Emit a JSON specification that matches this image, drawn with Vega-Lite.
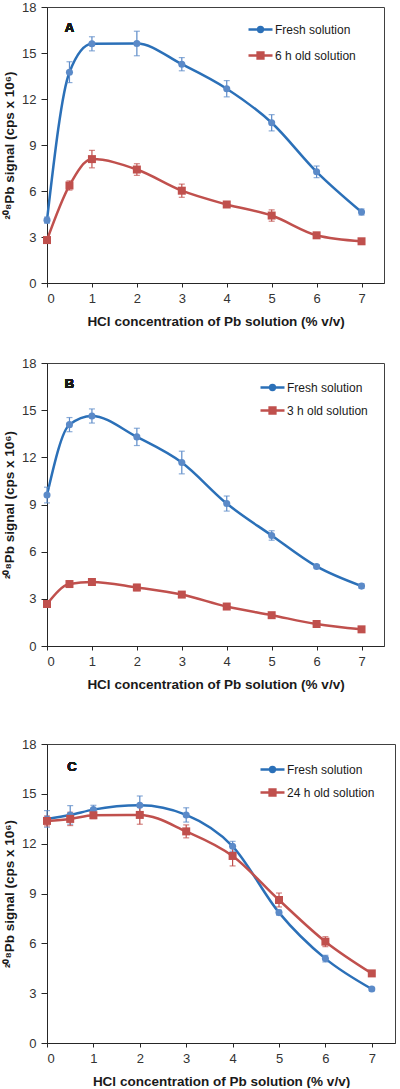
{
  "$schema": "https://vega.github.io/schema/vega-lite/v6.json",
  "padding": {"left": 2, "top": 0, "right": 0, "bottom": 0},
  "background": "white",
  "config": {
    "font": "Liberation Sans",
    "view": {"stroke": "#404040", "strokeWidth": 1},
    "axis": {"grid": false, "domainColor": "#262626", "tickColor": "#262626", "labelFont": "Liberation Sans", "labelFontSize": 13, "labelColor": "#333333", "titleFont": "Liberation Sans", "titleFontSize": 13.5, "titleFontWeight": "bold", "titleColor": "#1a1a1a"},
    "axisX": {"tickSize": 4, "labelPadding": 5, "titlePadding": 9},
    "axisY": {"tickSize": 6, "labelPadding": 5, "titlePadding": 5},
    "legend": {"orient": "none", "title": null, "symbolSize": 576, "symbolStrokeWidth": 2.5, "labelFont": "Liberation Sans", "labelFontSize": 12, "labelColor": "#1a1a1a", "labelOffset": 1, "padding": 0}
  },
  "datasets": {
    "A": [
      {"series": "Fresh solution", "x": 0, "v": 4.1, "e": 0.2},
      {"series": "Fresh solution", "x": 0.5, "v": 13.75, "e": 0.68},
      {"series": "Fresh solution", "x": 1, "v": 15.6, "e": 0.46},
      {"series": "Fresh solution", "x": 2, "v": 15.62, "e": 0.8},
      {"series": "Fresh solution", "x": 3, "v": 14.27, "e": 0.43},
      {"series": "Fresh solution", "x": 4, "v": 12.67, "e": 0.53},
      {"series": "Fresh solution", "x": 5, "v": 10.45, "e": 0.53},
      {"series": "Fresh solution", "x": 6, "v": 7.25, "e": 0.38},
      {"series": "Fresh solution", "x": 7, "v": 4.63, "e": 0.2},
      {"series": "6 h old solution", "x": 0, "v": 2.8, "e": 0.15},
      {"series": "6 h old solution", "x": 0.5, "v": 6.36, "e": 0.3},
      {"series": "6 h old solution", "x": 1, "v": 8.08, "e": 0.57},
      {"series": "6 h old solution", "x": 2, "v": 7.4, "e": 0.38},
      {"series": "6 h old solution", "x": 3, "v": 6.02, "e": 0.43},
      {"series": "6 h old solution", "x": 4, "v": 5.12, "e": 0.15},
      {"series": "6 h old solution", "x": 5, "v": 4.4, "e": 0.37},
      {"series": "6 h old solution", "x": 6, "v": 3.11, "e": 0.1},
      {"series": "6 h old solution", "x": 7, "v": 2.72, "e": 0.1}
    ],
    "B": [
      {"series": "Fresh solution", "x": 0, "v": 9.6, "e": 0.5},
      {"series": "Fresh solution", "x": 0.5, "v": 14.08, "e": 0.45},
      {"series": "Fresh solution", "x": 1, "v": 14.63, "e": 0.45},
      {"series": "Fresh solution", "x": 2, "v": 13.3, "e": 0.55},
      {"series": "Fresh solution", "x": 3, "v": 11.67, "e": 0.72},
      {"series": "Fresh solution", "x": 4, "v": 9.06, "e": 0.48},
      {"series": "Fresh solution", "x": 5, "v": 7.03, "e": 0.3},
      {"series": "Fresh solution", "x": 6, "v": 5.06, "e": 0.1},
      {"series": "Fresh solution", "x": 7, "v": 3.81, "e": 0.15},
      {"series": "3 h old solution", "x": 0, "v": 2.67, "e": 0.15},
      {"series": "3 h old solution", "x": 0.5, "v": 3.94, "e": 0.2},
      {"series": "3 h old solution", "x": 1, "v": 4.07, "e": 0.12},
      {"series": "3 h old solution", "x": 2, "v": 3.72, "e": 0.2},
      {"series": "3 h old solution", "x": 3, "v": 3.27, "e": 0.12},
      {"series": "3 h old solution", "x": 4, "v": 2.51, "e": 0.08},
      {"series": "3 h old solution", "x": 5, "v": 1.96, "e": 0.08},
      {"series": "3 h old solution", "x": 6, "v": 1.4, "e": 0.08},
      {"series": "3 h old solution", "x": 7, "v": 1.06, "e": 0.08}
    ],
    "C": [
      {"series": "Fresh solution", "x": 0, "v": 13.49, "e": 0.5},
      {"series": "Fresh solution", "x": 0.5, "v": 13.73, "e": 0.56},
      {"series": "Fresh solution", "x": 1, "v": 14.05, "e": 0.26},
      {"series": "Fresh solution", "x": 2, "v": 14.31, "e": 0.56},
      {"series": "Fresh solution", "x": 3, "v": 13.73, "e": 0.43},
      {"series": "Fresh solution", "x": 4, "v": 11.84, "e": 0.3},
      {"series": "Fresh solution", "x": 5, "v": 7.85, "e": 0.15},
      {"series": "Fresh solution", "x": 6, "v": 5.08, "e": 0.2},
      {"series": "Fresh solution", "x": 7, "v": 3.25, "e": 0.1},
      {"series": "24 h old solution", "x": 0, "v": 13.37, "e": 0.3},
      {"series": "24 h old solution", "x": 0.5, "v": 13.49, "e": 0.4},
      {"series": "24 h old solution", "x": 1, "v": 13.71, "e": 0.2},
      {"series": "24 h old solution", "x": 2, "v": 13.73, "e": 0.56},
      {"series": "24 h old solution", "x": 3, "v": 12.74, "e": 0.39},
      {"series": "24 h old solution", "x": 4, "v": 11.26, "e": 0.6},
      {"series": "24 h old solution", "x": 5, "v": 8.61, "e": 0.42},
      {"series": "24 h old solution", "x": 6, "v": 6.1, "e": 0.3},
      {"series": "24 h old solution", "x": 7, "v": 4.19, "e": 0.1}
    ]
  },
  "spacing": 28,
  "vconcat": [
    {
      "width": 337, "height": 276,
      "data": {"name": "A"},
      "encoding": {
        "x": {"field": "x", "type": "quantitative", "scale": {"domain": [0, 7.5], "nice": false}, "axis": {"values": [0, 1, 2, 3, 4, 5, 6, 7], "title": "HCl concentration of Pb solution (% v/v)"}},
        "y": {"field": "v", "type": "quantitative", "scale": {"domain": [0, 18], "nice": false}, "axis": {"values": [0, 3, 6, 9, 12, 15, 18], "title": "²⁰⁸Pb signal (cps x 10⁶)"}}
      },
      "layer": [
        {"mark": {"type": "line", "strokeWidth": 2.5, "interpolate": "monotone"},
         "encoding": {"color": {"field": "series", "type": "nominal", "sort": null, "scale": {"domain": ["Fresh solution", "6 h old solution"], "range": ["#2B70B8", "#C0504D"]},
           "legend": {"legendX": 200, "legendY": 9, "rowPadding": 5,
             "encode": {"symbols": {"update": {
               "shape": {"signal": "datum.value === 'Fresh solution' ? 'M-1,0H1M0.2,0A0.2,0.2 0 1,1 -0.2,0A0.2,0.2 0 1,1 0.2,0Z' : 'M-1,0H1M-0.24,-0.24H0.24V0.24H-0.24Z'"},
               "fill": {"signal": "datum.value === 'Fresh solution' ? '#5B8AC8' : '#C0504D'"},
               "stroke": {"signal": "datum.value === 'Fresh solution' ? '#2B70B8' : '#C0504D'"},
               "strokeWidth": {"value": 2.5}, "opacity": {"value": 1}}}}}}}},
        {"transform": [{"filter": "datum.series === 'Fresh solution'"}], "mark": {"type": "errorbar", "color": "#5B8AC8", "thickness": 1.2, "ticks": {"size": 6}}, "encoding": {"yError": {"field": "e"}}},
        {"transform": [{"filter": "datum.series !== 'Fresh solution'"}], "mark": {"type": "errorbar", "color": "#C0504D", "thickness": 1.2, "ticks": {"size": 6}}, "encoding": {"yError": {"field": "e"}}},
        {"transform": [{"filter": "datum.series === 'Fresh solution'"}], "mark": {"type": "point", "shape": "circle", "filled": true, "opacity": 1, "size": 50, "color": "#5B8AC8"}},
        {"transform": [{"filter": "datum.series !== 'Fresh solution'"}], "mark": {"type": "point", "shape": "square", "filled": true, "opacity": 1, "size": 64, "color": "#C0504D"}},
        {"mark": {"type": "text", "text": "A", "fontSize": 13, "fontWeight": "bold", "font": "Liberation Sans", "color": "#1a1a1a"},
         "encoding": {"x": {"datum": 0.5}, "y": {"datum": 16.6}}}
      ]
    },
    {
      "spacing": 46,
      "resolve": {"scale": {"color": "independent"}},
      "vconcat": [
        {
          "width": 337, "height": 283,
          "data": {"name": "B"},
          "encoding": {
            "x": {"field": "x", "type": "quantitative", "scale": {"domain": [0, 7.5], "nice": false}, "axis": {"values": [0, 1, 2, 3, 4, 5, 6, 7], "title": "HCl concentration of Pb solution (% v/v)"}},
            "y": {"field": "v", "type": "quantitative", "scale": {"domain": [0, 18], "nice": false}, "axis": {"values": [0, 3, 6, 9, 12, 15, 18], "title": "²⁰⁸Pb signal (cps x 10⁶)"}}
          },
          "layer": [
            {"mark": {"type": "line", "strokeWidth": 2.5, "interpolate": "monotone"},
             "encoding": {"color": {"field": "series", "type": "nominal", "sort": null, "scale": {"domain": ["Fresh solution", "3 h old solution"], "range": ["#2B70B8", "#C0504D"]},
               "legend": {"legendX": 212, "legendY": 11, "rowPadding": 2,
                 "encode": {"symbols": {"update": {
                   "shape": {"signal": "datum.value === 'Fresh solution' ? 'M-1,0H1M0.2,0A0.2,0.2 0 1,1 -0.2,0A0.2,0.2 0 1,1 0.2,0Z' : 'M-1,0H1M-0.24,-0.24H0.24V0.24H-0.24Z'"},
                   "fill": {"signal": "datum.value === 'Fresh solution' ? '#5B8AC8' : '#C0504D'"},
                   "stroke": {"signal": "datum.value === 'Fresh solution' ? '#2B70B8' : '#C0504D'"},
                   "strokeWidth": {"value": 2.5}, "opacity": {"value": 1}}}}}}}},
            {"transform": [{"filter": "datum.series === 'Fresh solution'"}], "mark": {"type": "errorbar", "color": "#5B8AC8", "thickness": 1.2, "ticks": {"size": 6}}, "encoding": {"yError": {"field": "e"}}},
            {"transform": [{"filter": "datum.series !== 'Fresh solution'"}], "mark": {"type": "errorbar", "color": "#C0504D", "thickness": 1.2, "ticks": {"size": 6}}, "encoding": {"yError": {"field": "e"}}},
            {"transform": [{"filter": "datum.series === 'Fresh solution'"}], "mark": {"type": "point", "shape": "circle", "filled": true, "opacity": 1, "size": 50, "color": "#5B8AC8"}},
            {"transform": [{"filter": "datum.series !== 'Fresh solution'"}], "mark": {"type": "point", "shape": "square", "filled": true, "opacity": 1, "size": 64, "color": "#C0504D"}},
            {"mark": {"type": "text", "text": "B", "fontSize": 13, "fontWeight": "bold", "font": "Liberation Sans", "color": "#1a1a1a"},
             "encoding": {"x": {"datum": 0.5}, "y": {"datum": 16.65}}}
          ]
        },
        {
          "width": 348, "height": 299,
          "data": {"name": "C"},
          "encoding": {
            "x": {"field": "x", "type": "quantitative", "scale": {"domain": [0, 7.5], "nice": false}, "axis": {"values": [0, 1, 2, 3, 4, 5, 6, 7], "title": "HCl concentration of Pb solution (% v/v)"}},
            "y": {"field": "v", "type": "quantitative", "scale": {"domain": [0, 18], "nice": false}, "axis": {"values": [0, 3, 6, 9, 12, 15, 18], "title": "²⁰⁸Pb signal (cps x 10⁶)"}}
          },
          "layer": [
            {"mark": {"type": "line", "strokeWidth": 2.5, "interpolate": "monotone"},
             "encoding": {"color": {"field": "series", "type": "nominal", "sort": null, "scale": {"domain": ["Fresh solution", "24 h old solution"], "range": ["#2B70B8", "#C0504D"]},
               "legend": {"legendX": 212, "legendY": 12, "rowPadding": 2,
                 "encode": {"symbols": {"update": {
                   "shape": {"signal": "datum.value === 'Fresh solution' ? 'M-1,0H1M0.2,0A0.2,0.2 0 1,1 -0.2,0A0.2,0.2 0 1,1 0.2,0Z' : 'M-1,0H1M-0.24,-0.24H0.24V0.24H-0.24Z'"},
                   "fill": {"signal": "datum.value === 'Fresh solution' ? '#5B8AC8' : '#C0504D'"},
                   "stroke": {"signal": "datum.value === 'Fresh solution' ? '#2B70B8' : '#C0504D'"},
                   "strokeWidth": {"value": 2.5}, "opacity": {"value": 1}}}}}}}},
            {"transform": [{"filter": "datum.series === 'Fresh solution'"}], "mark": {"type": "errorbar", "color": "#5B8AC8", "thickness": 1.2, "ticks": {"size": 6}}, "encoding": {"yError": {"field": "e"}}},
            {"transform": [{"filter": "datum.series !== 'Fresh solution'"}], "mark": {"type": "errorbar", "color": "#C0504D", "thickness": 1.2, "ticks": {"size": 6}}, "encoding": {"yError": {"field": "e"}}},
            {"transform": [{"filter": "datum.series === 'Fresh solution'"}], "mark": {"type": "point", "shape": "circle", "filled": true, "opacity": 1, "size": 50, "color": "#5B8AC8"}},
            {"transform": [{"filter": "datum.series !== 'Fresh solution'"}], "mark": {"type": "point", "shape": "square", "filled": true, "opacity": 1, "size": 64, "color": "#C0504D"}},
            {"mark": {"type": "text", "text": "C", "fontSize": 13, "fontWeight": "bold", "font": "Liberation Sans", "color": "#1a1a1a"},
             "encoding": {"x": {"datum": 0.54}, "y": {"datum": 16.6}}}
          ]
        }
      ]
    }
  ],
  "resolve": {"scale": {"color": "independent"}}
}
